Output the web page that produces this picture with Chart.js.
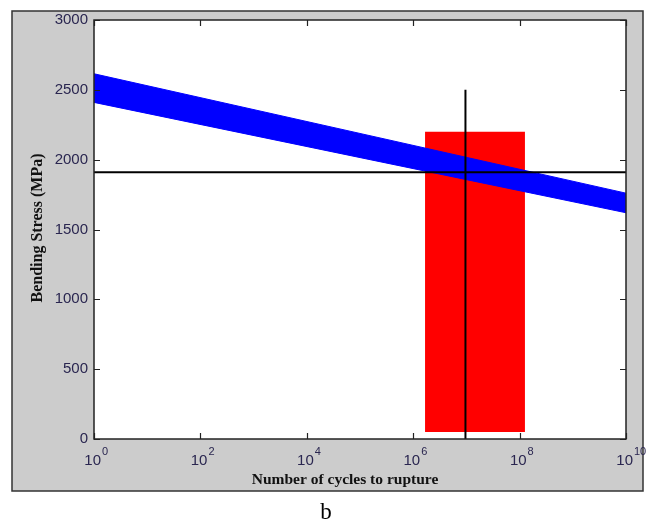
<!DOCTYPE html>
<html><head><meta charset="utf-8">
<script src="https://cdn.jsdelivr.net/npm/chart.js@4"></script>
<style>html,body{margin:0;padding:0;background:#fff}#wrap{width:649px;height:527px}</style>
</head><body><div id="wrap"><canvas id="c" width="649" height="527"></canvas></div>
<script>
// ---- data ----
const bandX = [1, 1e10];
const bandUpper = [2615, 1760];
const bandLower = [2410, 1620];
const rectX = [1.67e6, 1.26e8];
const rectTop = [2200, 2200];
const rectBottom = 50;
const hLineX = [1, 1e10];
const hLineY = [1910, 1910];
const vLineX = [9.6e6, 9.6e6];
const vLineY = [0, 2500];
const xTickExps = [0, 2, 4, 6, 8, 10];
const yTicks = [0, 500, 1000, 1500, 2000, 2500, 3000];
const xTitle = 'Number of cycles to rupture';
const yTitle = 'Bending Stress (MPa)';
const caption = 'b';

const pts = (xs, ys) => xs.map((x, i) => ({x: x, y: ys[i]}));

const deco = {
  id: 'deco',
  beforeDraw(chart) {
    const ctx = chart.ctx, a = chart.chartArea;
    ctx.save();
    ctx.fillStyle = '#fff';
    ctx.fillRect(0, 0, chart.width, chart.height);
    ctx.fillStyle = '#cccccc';
    ctx.fillRect(12, 11, 631, 480);
    ctx.strokeStyle = '#333';
    ctx.lineWidth = 1.5;
    ctx.strokeRect(12, 11, 631, 480);
    ctx.fillStyle = '#fff';
    ctx.fillRect(a.left, a.top, a.right - a.left, a.bottom - a.top);
    ctx.restore();
  },
  afterDraw(chart) {
    const ctx = chart.ctx, a = chart.chartArea;
    const xs = chart.scales.x, ys = chart.scales.y;
    ctx.save();
    ctx.strokeStyle = '#222';
    ctx.lineWidth = 1.5;
    ctx.strokeRect(a.left, a.top, a.right - a.left, a.bottom - a.top);
    ctx.lineWidth = 1.2;
    ctx.beginPath();
    xTickExps.forEach(e => {
      const px = Math.round(xs.getPixelForValue(Math.pow(10, e))) + 0.5;
      ctx.moveTo(px, a.bottom); ctx.lineTo(px, a.bottom - 6);
      ctx.moveTo(px, a.top); ctx.lineTo(px, a.top + 6);
    });
    yTicks.forEach(v => {
      const py = Math.round(ys.getPixelForValue(v)) + 0.5;
      ctx.moveTo(a.left, py); ctx.lineTo(a.left + 6, py);
      ctx.moveTo(a.right, py); ctx.lineTo(a.right - 6, py);
    });
    ctx.stroke();
    // tick labels
    ctx.fillStyle = '#2a2650';
    ctx.font = '15px "Liberation Sans", Arial, sans-serif';
    ctx.textAlign = 'right';
    ctx.textBaseline = 'middle';
    yTicks.forEach(v => {
      ctx.fillText(String(v), a.left - 6, ys.getPixelForValue(v));
    });
    xTickExps.forEach(e => {
      const px = xs.getPixelForValue(Math.pow(10, e));
      ctx.font = '15px "Liberation Sans", Arial, sans-serif';
      ctx.textAlign = 'right';
      ctx.textBaseline = 'alphabetic';
      ctx.fillText('10', px + 7, 465);
      ctx.font = '11px "Liberation Sans", Arial, sans-serif';
      ctx.textAlign = 'left';
      ctx.fillText(String(e), px + 8, 455);
    });
    // titles
    ctx.fillStyle = '#111';
    ctx.font = 'bold 15.5px "Liberation Serif", "DejaVu Serif", serif';
    ctx.textAlign = 'center';
    ctx.textBaseline = 'middle';
    ctx.fillText(xTitle, 345, 480);
    ctx.save();
    ctx.translate(38, 228);
    ctx.rotate(-Math.PI / 2);
    ctx.font = 'bold 16px "Liberation Serif", "DejaVu Serif", serif';
    ctx.fillText(yTitle, 0, 0);
    ctx.restore();
    ctx.fillStyle = '#000';
    ctx.font = '23px "Liberation Serif", serif';
    ctx.fillText(caption, 326, 513);
    ctx.restore();
  }
};

new Chart(document.getElementById('c'), {
  type: 'line',
  data: {
    datasets: [
      {data: pts(hLineX, hLineY), borderColor: '#000', borderWidth: 2, pointRadius: 0, fill: false, order: 0},
      {data: pts(vLineX, vLineY), borderColor: '#000', borderWidth: 2, pointRadius: 0, fill: false, order: 0},
      {data: pts(bandX, bandUpper), borderColor: '#0000ff', borderWidth: 1, backgroundColor: '#0000ff', pointRadius: 0, fill: '+1', order: 1},
      {data: pts(bandX, bandLower), borderColor: '#0000ff', borderWidth: 1, pointRadius: 0, fill: false, order: 1},
      {data: pts(rectX, rectTop), borderColor: 'rgba(0,0,0,0)', borderWidth: 0, backgroundColor: '#ff0000', pointRadius: 0, fill: {value: rectBottom}, order: 2}
    ]
  },
  options: {
    responsive: false,
    animation: false,
    events: [],
    layout: {padding: {left: 94, top: 20, right: 23, bottom: 88}},
    plugins: {legend: {display: false}, tooltip: {enabled: false}},
    scales: {
      x: {type: 'logarithmic', min: 1, max: 1e10, grid: {display: false}, border: {display: false}, ticks: {display: false}, afterFit: s => { s.height = 0; }},
      y: {type: 'linear', min: 0, max: 3000, grid: {display: false}, border: {display: false}, ticks: {display: false}, afterFit: s => { s.width = 0; }}
    }
  },
  plugins: [deco]
});
</script></body></html>
